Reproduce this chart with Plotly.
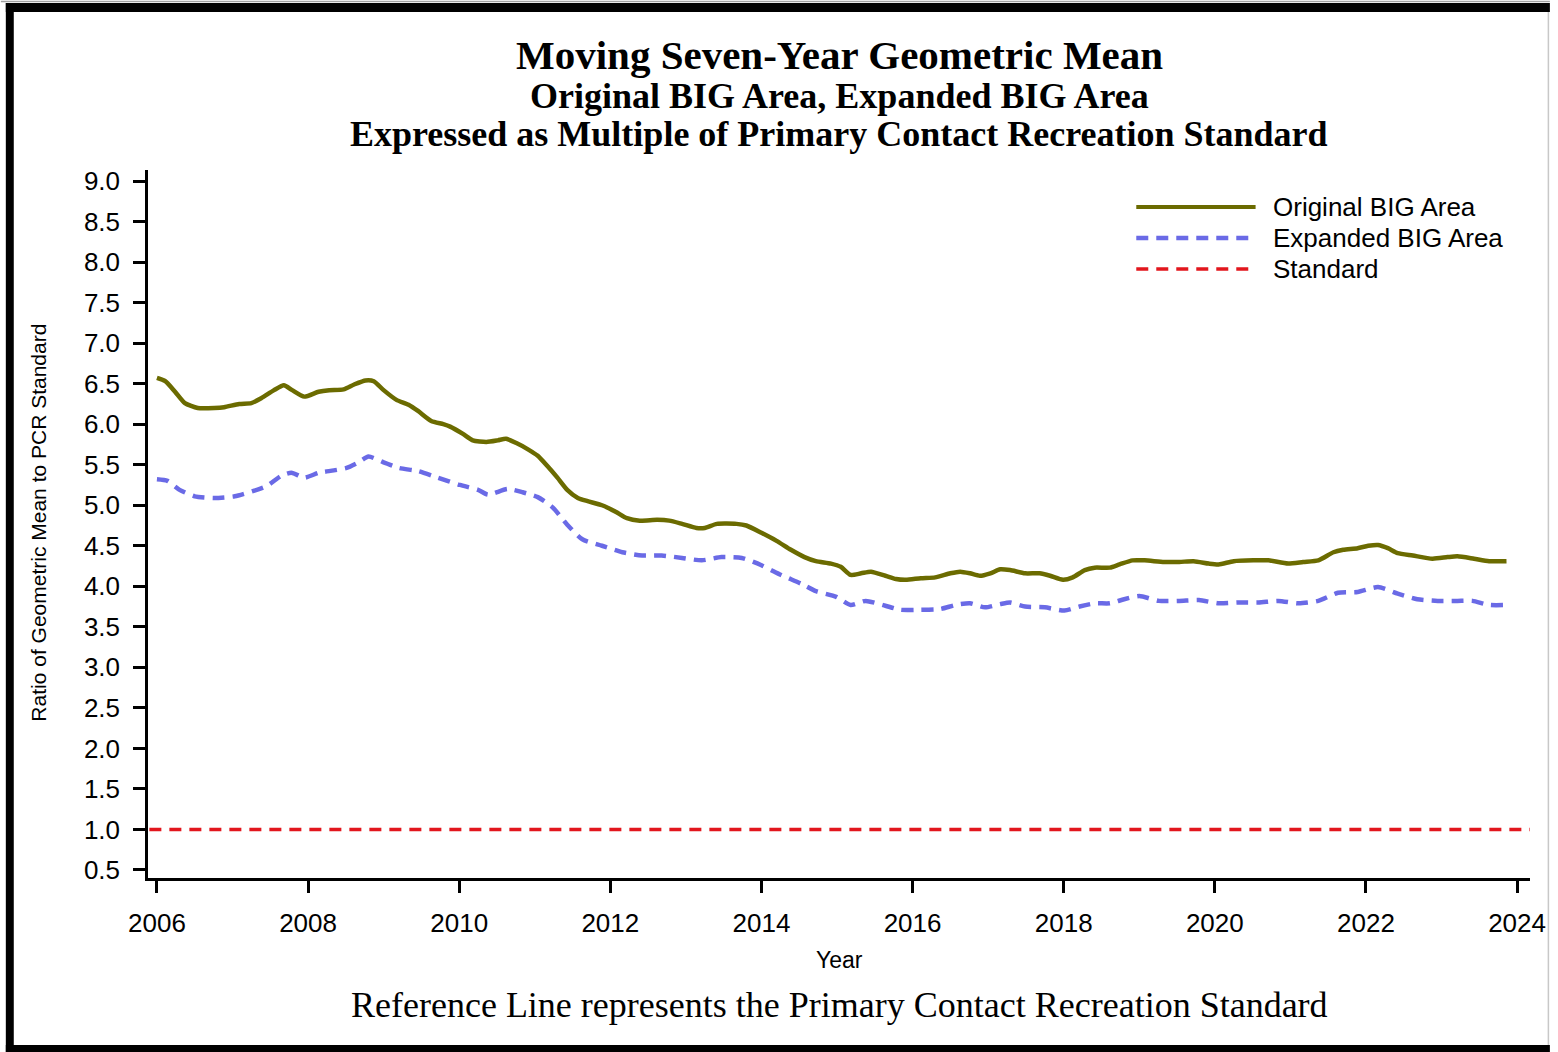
import plotly.graph_objects as go

# ---------------- data ----------------
orig_years = [2006.00, 2006.11, 2006.24, 2006.37, 2006.54, 2006.76, 2006.89, 2007.09, 2007.25, 2007.38,
              2007.55, 2007.68, 2007.79, 2007.95, 2008.14, 2008.28, 2008.47, 2008.61, 2008.76, 2008.87,
              2009.00, 2009.17, 2009.33, 2009.46, 2009.63, 2009.79, 2009.88, 2010.05, 2010.18, 2010.36,
              2010.51, 2010.62, 2010.75, 2010.91, 2011.04, 2011.17, 2011.30, 2011.43, 2011.57, 2011.70,
              2011.89, 2012.07, 2012.22, 2012.39, 2012.62, 2012.78, 2012.95, 2013.14, 2013.25, 2013.41,
              2013.67, 2013.80, 2014.00, 2014.20, 2014.39, 2014.57, 2014.72, 2014.92, 2015.05, 2015.18,
              2015.32, 2015.45, 2015.64, 2015.78, 2015.91, 2016.11, 2016.30, 2016.50, 2016.63, 2016.76,
              2016.89, 2017.03, 2017.16, 2017.29, 2017.49, 2017.68, 2017.82, 2017.99, 2018.12, 2018.28,
              2018.41, 2018.61, 2018.74, 2018.91, 2019.07, 2019.33, 2019.53, 2019.72, 2019.92, 2020.05,
              2020.25, 2020.51, 2020.71, 2020.97, 2021.17, 2021.37, 2021.57, 2021.70, 2021.89, 2022.03,
              2022.16, 2022.29, 2022.42, 2022.62, 2022.88, 2023.08, 2023.21, 2023.43, 2023.63, 2023.86]
orig_values = [6.57, 6.53, 6.40, 6.26, 6.20, 6.20, 6.21, 6.25, 6.26, 6.32,
               6.42, 6.48, 6.42, 6.34, 6.40, 6.42, 6.43, 6.49, 6.54, 6.53,
               6.42, 6.30, 6.24, 6.16, 6.04, 6.00, 5.97, 5.88, 5.80, 5.78,
               5.80, 5.82, 5.77, 5.69, 5.61, 5.48, 5.34, 5.19, 5.09, 5.05,
               5.00, 4.92, 4.84, 4.81, 4.82, 4.81, 4.77, 4.72, 4.72, 4.77,
               4.77, 4.75, 4.66, 4.56, 4.45, 4.36, 4.31, 4.28, 4.24, 4.14,
               4.16, 4.18, 4.13, 4.09, 4.08, 4.10, 4.11, 4.16, 4.18, 4.16,
               4.13, 4.16, 4.21, 4.20, 4.16, 4.16, 4.13, 4.08, 4.11, 4.20,
               4.23, 4.23, 4.27, 4.32, 4.32, 4.30, 4.30, 4.31, 4.28, 4.27,
               4.31, 4.32, 4.32, 4.28, 4.30, 4.32, 4.42, 4.45, 4.47, 4.50,
               4.51, 4.47, 4.41, 4.38, 4.34, 4.36, 4.37, 4.34, 4.31, 4.31]

exp_years = [2006.00, 2006.14, 2006.30, 2006.50, 2006.76, 2007.03, 2007.29, 2007.46, 2007.64, 2007.78,
             2007.95, 2008.14, 2008.34, 2008.51, 2008.67, 2008.80, 2009.00, 2009.20, 2009.46, 2009.72,
             2010.01, 2010.25, 2010.38, 2010.64, 2010.84, 2011.04, 2011.24, 2011.43, 2011.63, 2011.89,
             2012.16, 2012.42, 2012.68, 2012.95, 2013.21, 2013.47, 2013.74, 2014.00, 2014.26, 2014.53,
             2014.72, 2014.99, 2015.18, 2015.38, 2015.64, 2015.84, 2016.11, 2016.37, 2016.57, 2016.76,
             2016.96, 2017.16, 2017.29, 2017.49, 2017.75, 2018.01, 2018.21, 2018.41, 2018.61, 2018.80,
             2019.00, 2019.26, 2019.53, 2019.79, 2020.05, 2020.32, 2020.58, 2020.84, 2021.11, 2021.37,
             2021.63, 2021.89, 2022.16, 2022.42, 2022.68, 2022.95, 2023.21, 2023.41, 2023.63, 2023.90]
exp_values = [5.32, 5.30, 5.19, 5.11, 5.09, 5.11, 5.18, 5.24, 5.36, 5.40,
              5.34, 5.40, 5.43, 5.46, 5.53, 5.60, 5.53, 5.46, 5.42, 5.34,
              5.25, 5.19, 5.13, 5.20, 5.16, 5.10, 4.97, 4.76, 4.58, 4.50,
              4.42, 4.38, 4.38, 4.35, 4.32, 4.36, 4.35, 4.26, 4.14, 4.03,
              3.94, 3.87, 3.77, 3.82, 3.76, 3.71, 3.71, 3.72, 3.77, 3.79,
              3.74, 3.78, 3.80, 3.75, 3.74, 3.70, 3.75, 3.79, 3.79, 3.84,
              3.88, 3.82, 3.82, 3.83, 3.79, 3.80, 3.80, 3.82, 3.79, 3.82,
              3.92, 3.93, 3.99, 3.91, 3.84, 3.82, 3.82, 3.82, 3.77, 3.77]

standard_years = [2005.90, 2024.17]
standard_values = [1.0, 1.0]

x_tick_vals = [2006, 2008, 2010, 2012, 2014, 2016, 2018, 2020, 2022, 2024]
y_tick_vals = [0.5, 1.0, 1.5, 2.0, 2.5, 3.0, 3.5, 4.0, 4.5, 5.0, 5.5, 6.0, 6.5, 7.0, 7.5, 8.0, 8.5, 9.0]

series_names = ["Original BIG Area", "Expanded BIG Area", "Standard"]
title_lines = ["Moving Seven-Year Geometric Mean",
               "Original BIG Area, Expanded BIG Area",
               "Expressed as Multiple of Primary Contact Recreation Standard"]
caption = "Reference Line represents the Primary Contact Recreation Standard"

# ---------------- styling ----------------
W, H = 1558, 1052
PL, PR, PT, PB = 148, 1538, 170, 878   # plot area in pixels
OLIVE = "#6b6b00"
BLUE = "#6a6ae6"
RED = "#e2161d"
SANS = "Liberation Sans, Arial, Helvetica, sans-serif"
SERIF = "Liberation Serif, Times New Roman, serif"
DASH = "12px,8px"


def px(X):
    return (X - PL) / (PR - PL)


def py(Y):
    return (PB - Y) / (PB - PT)


fig = go.Figure()
fig.add_trace(go.Scatter(x=orig_years, y=orig_values, mode="lines", name=series_names[0],
                         line=dict(color=OLIVE, width=4.5, shape="spline", smoothing=0.6),
                         showlegend=False))
fig.add_trace(go.Scatter(x=exp_years, y=exp_values, mode="lines", name=series_names[1],
                         line=dict(color=BLUE, width=4.5, dash=DASH, shape="spline", smoothing=0.6),
                         showlegend=False))
fig.add_trace(go.Scatter(x=standard_years, y=standard_values, mode="lines", name=series_names[2],
                         line=dict(color=RED, width=3.5, dash=DASH),
                         showlegend=False))

shapes = []
annotations = []

# manual legend
legend_rows = [(207, OLIVE, None, 4), (238, BLUE, "dash", 4.5), (269, RED, "dash", 3.5)]
for (Y, col, dsh, wd), name in zip(legend_rows, series_names):
    shapes.append(dict(type="line", xref="paper", yref="paper",
                       x0=px(1142), x1=px(1262), y0=py(Y), y1=py(Y),
                       line=dict(color=col, width=wd, dash=DASH if dsh else "solid")))
    annotations.append(dict(text=name, xref="paper", yref="paper", x=px(1278), y=py(Y),
                            xanchor="left", yanchor="middle", showarrow=False,
                            font=dict(family=SANS, size=26, color="#000000")))

# titles
for text, Y, size in zip(title_lines, [55, 96, 134], [41, 36, 36]):
    annotations.append(dict(text="<b>" + text + "</b>", xref="paper", yref="paper", x=0.5, y=py(Y),
                            xanchor="center", yanchor="middle", showarrow=False,
                            font=dict(family=SERIF, size=size, color="#000000")))

# caption
annotations.append(dict(text=caption, xref="paper", yref="paper", x=0.5, y=py(1005),
                        xanchor="center", yanchor="middle", showarrow=False,
                        font=dict(family=SERIF, size=36, color="#000000")))
# axis titles
annotations.append(dict(text="Year", xref="paper", yref="paper", x=0.5, y=py(960),
                        xanchor="center", yanchor="middle", showarrow=False,
                        font=dict(family=SANS, size=23, color="#000000")))
annotations.append(dict(text="Ratio of Geometric Mean to PCR Standard", xref="paper", yref="paper",
                        x=px(37), y=py(523), xanchor="center", yanchor="middle", textangle=-90,
                        showarrow=False, font=dict(family=SANS, size=21, color="#000000")))

# outer frame
shapes += [
    dict(type="rect", xref="paper", yref="paper", x0=px(5), x1=px(1558), y0=py(3), y1=py(12),
         fillcolor="#000000", line=dict(width=0), layer="above"),
    dict(type="rect", xref="paper", yref="paper", x0=px(5), x1=px(13), y0=py(3), y1=py(1052),
         fillcolor="#000000", line=dict(width=0), layer="above"),
    dict(type="rect", xref="paper", yref="paper", x0=px(5), x1=px(1558), y0=py(1045), y1=py(1052),
         fillcolor="#000000", line=dict(width=0), layer="above"),
    dict(type="line", xref="paper", yref="paper", x0=px(1556.5), x1=px(1556.5), y0=py(12), y1=py(1045),
         line=dict(color="#c8c8c8", width=1.5), layer="above"),
    dict(type="line", xref="paper", yref="paper", x0=px(0), x1=px(1558), y0=py(1.5), y1=py(1.5),
         line=dict(color="#a0a0a0", width=1.5), layer="above"),
]

fig.update_layout(
    width=W, height=H,
    margin=dict(l=PL, r=W - PR, t=PT, b=H - PB, pad=0),
    paper_bgcolor="white", plot_bgcolor="white",
    shapes=shapes, annotations=annotations,
    showlegend=False,
    font=dict(family=SANS, color="#000000"),
)
fig.update_xaxes(range=[2005.882, 2024.171], tickvals=x_tick_vals, ticktext=[str(v) for v in x_tick_vals],
                 showgrid=False, zeroline=False, showline=True, linecolor="#000000", linewidth=2.5,
                 ticks="outside", ticklen=12, tickwidth=2.5, tickcolor="#000000",
                 tickfont=dict(family=SANS, size=26, color="#000000"), ticklabelstandoff=8)
fig.update_yaxes(range=[0.401, 9.136], tickvals=y_tick_vals, ticktext=["%.1f" % v for v in y_tick_vals],
                 showgrid=False, zeroline=False, showline=True, linecolor="#000000", linewidth=2.5,
                 ticks="outside", ticklen=12, tickwidth=2.5, tickcolor="#000000",
                 tickfont=dict(family=SANS, size=26, color="#000000"), ticklabelstandoff=8)

# fit the figure to the actual viewport width while keeping the reference proportions
post_js = (
    "document.body.style.margin='0';document.body.style.overflow='hidden';"
    "var gd=document.getElementById('{plot_id}');"
    "var vw=document.documentElement.clientWidth||window.innerWidth;"
    "if(vw&&Math.abs(vw-%d)>1){var k=vw/%d;"
    "Plotly.relayout(gd,{width:vw,'margin.l':%d*k,'margin.r':%d*k});}"
    % (W, W, PL, W - PR)
)

fig.write_html("out.html", config={"displayModeBar": False}, post_script=post_js)
